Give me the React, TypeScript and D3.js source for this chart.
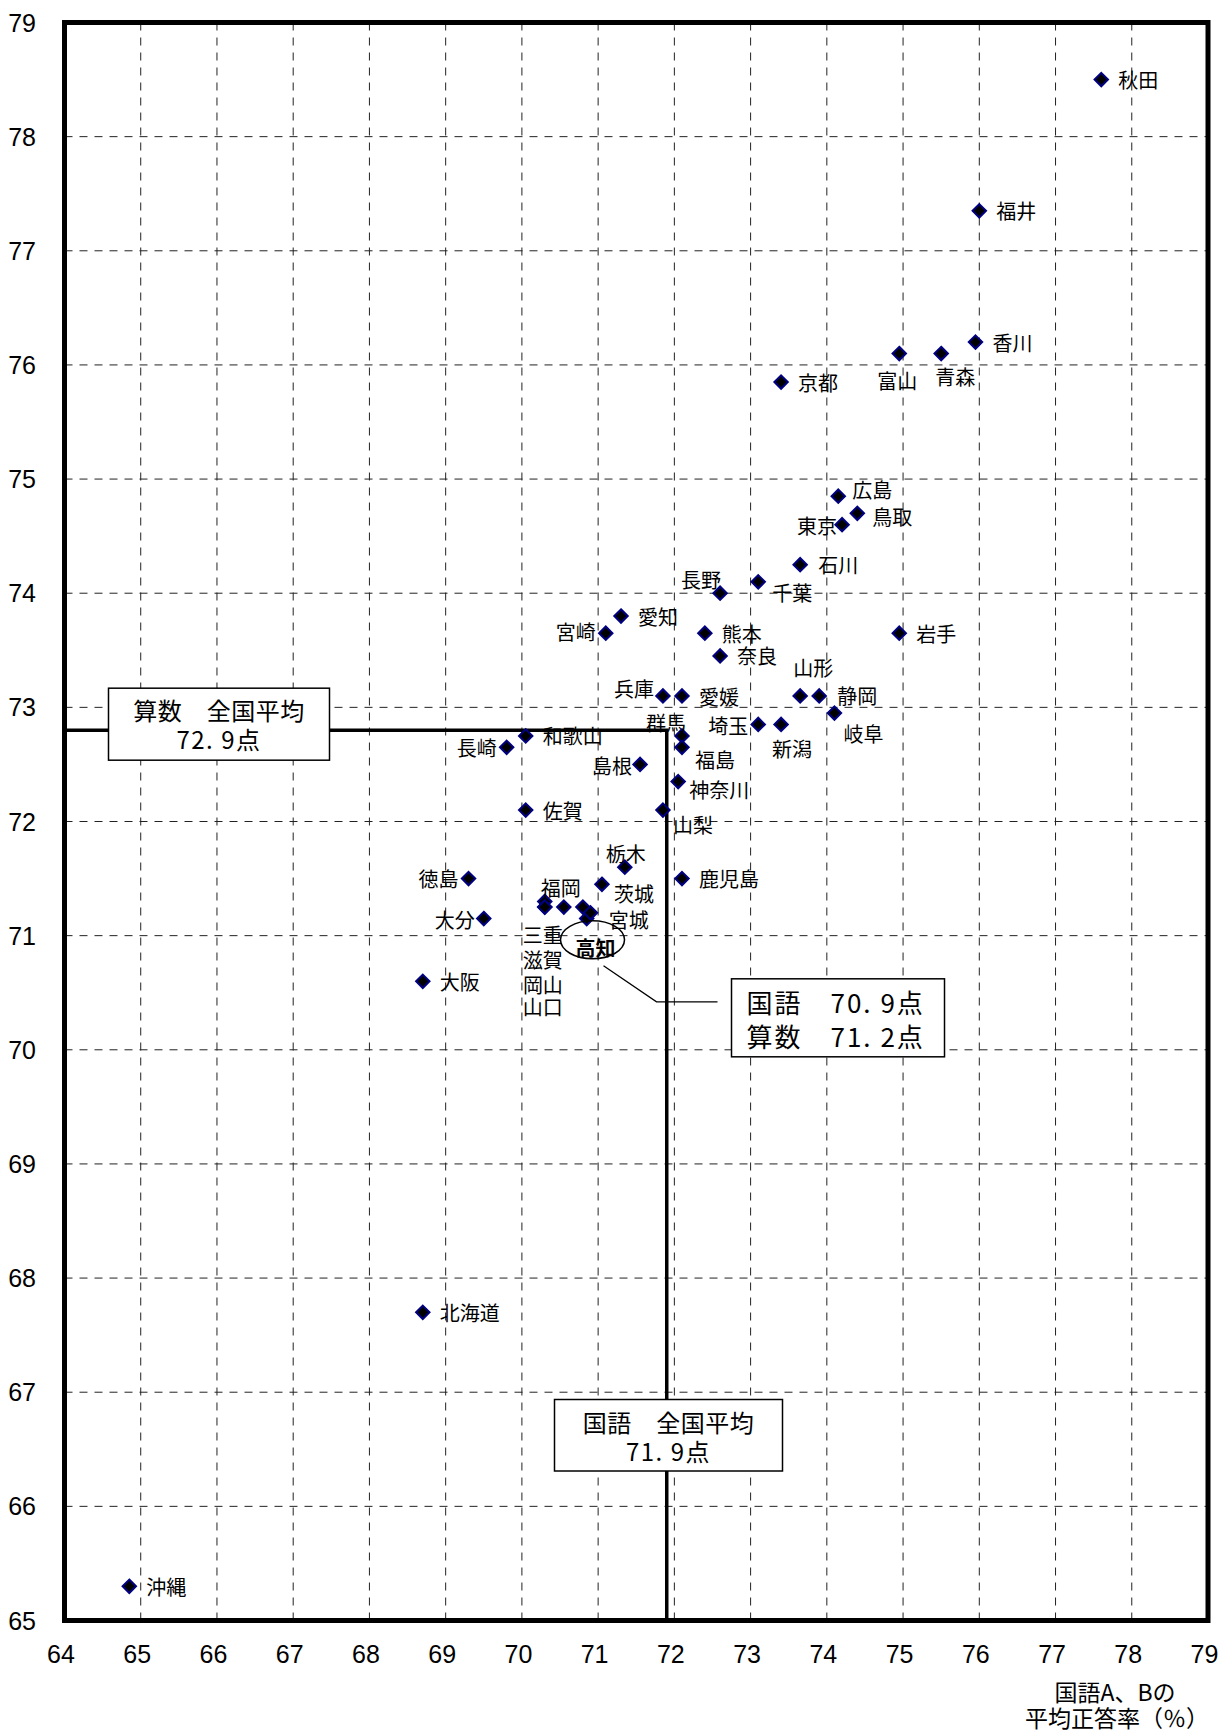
import React from "react";
import * as d3 from "d3";

// ---- data (国語 = x, 算数 = y) ----
const prefectures = [
  "秋田", "福井", "香川", "富山", "青森", "京都", "広島", "鳥取", "東京", "石川",
  "千葉", "長野", "愛知", "宮崎", "熊本", "岩手", "奈良", "兵庫", "愛媛", "山形",
  "静岡", "岐阜", "埼玉", "新潟", "群馬", "福島", "和歌山", "長崎", "島根", "神奈川",
  "佐賀", "山梨", "栃木", "鹿児島", "徳島", "茨城", "福岡", "三重", "山口", "滋賀",
  "岡山", "宮城", "高知", "大分", "大阪", "北海道", "沖縄",
];
const kokugo = [
  77.6, 76.0, 75.95, 74.95, 75.5, 73.4, 74.15, 74.4, 74.2, 73.65,
  73.1, 72.6, 71.3, 71.1, 72.4, 74.95, 72.6, 71.85, 72.1, 73.65,
  73.9, 74.1, 73.1, 73.4, 72.1, 72.1, 70.05, 69.8, 71.55, 72.05,
  70.05, 71.85, 71.35, 72.1, 69.3, 71.05, 70.3, 70.3, 70.3, 70.55,
  70.8, 70.85, 70.9, 69.5, 68.7, 68.7, 64.85,
];
const sansu = [
  78.5, 77.35, 76.2, 76.1, 76.1, 75.85, 74.85, 74.7, 74.6, 74.25,
  74.1, 74.0, 73.8, 73.65, 73.65, 73.65, 73.45, 73.1, 73.1, 73.1,
  73.1, 72.95, 72.85, 72.85, 72.75, 72.65, 72.75, 72.65, 72.5, 72.35,
  72.1, 72.1, 71.6, 71.5, 71.5, 71.45, 71.3, 71.25, 71.25, 71.25,
  71.25, 71.15, 71.2, 71.15, 70.6, 67.7, 65.3,
];
const xTicks = d3.range(64, 80, 1);
const yTicks = d3.range(65, 80, 1);
const avgKokugo = 71.9;
const avgSansuLine = 72.8;
const avgSansuText = ["算数　全国平均", "72. 9点"];
const avgKokugoText = ["国語　全国平均", "71. 9点"];
const kochiText = ["国語　70. 9点", "算数　71. 2点"];
const axisTitle = ["国語A、Bの", "平均正答率（％）"];

// ---- label placement (layout, px offsets from marker) ----
type LP = [string, number, number];
const labelPlacement: LP[] = [
  ["start", 17, 0], ["start", 17, 0], ["start", 17, 0], ["middle", -2, 27], ["middle", 14, 23],
  ["start", 17, 0], ["start", 14, -7], ["start", 15, 3], ["end", -5, 1], ["start", 18, 0],
  ["start", 14, 11], ["end", 1, -14], ["start", 17, 0], ["end", -10, -2], ["start", 17, 0],
  ["start", 17, 0], ["start", 17, 0], ["end", -9, -7], ["start", 17, 1], ["start", -7, -28],
  ["start", 18, 0], ["start", 9, 20], ["end", -10, 1], ["start", -9, 24], ["end", 4, -13],
  ["start", 13, 12], ["start", 17, 0], ["end", -10, 0], ["end", -8, 1], ["start", 11, 8],
  ["start", 17, 0], ["start", 10, 14], ["middle", 1, -14], ["start", 17, 0], ["end", -10, 0],
  ["start", 12, 9], ["start", -4, -14], ["start", -22, 27], ["start", -22, 99], ["start", -41, 52],
  ["start", -60, 77], ["start", 22, 1], ["middle", 5, 35], ["end", -9, 1], ["start", 17, 0],
  ["start", 17, 0], ["start", 17, 0],
];

const W = 1218;
const H = 1733;
const LEFT = 64.5, RIGHT = 1208, TOP = 22.5, BOTTOM = 1620.5;
const JP = "'Noto Sans CJK JP', 'Noto Sans', sans-serif";
const NUM = "'Liberation Sans Narrow', 'Liberation Sans', Arial, sans-serif";

export default function App() {
  const x = d3.scaleLinear().domain([64, 79]).range([LEFT, RIGHT]);
  const y = d3.scaleLinear().domain([65, 79]).range([BOTTOM, TOP]);
  const diamond = d3.symbol().type(d3.symbolDiamond2).size(115)() as string;

  const points = prefectures.map((n, i) => ({ name: n, px: x(kokugo[i]), py: y(sansu[i]), lp: labelPlacement[i] }));
  const kochi = points.find((p) => p.name === "高知")!;

  const vx = x(avgKokugo);
  const hy = y(avgSansuLine);

  // annotation box for 高知
  const kb = { x: kochi.px + 141, y: kochi.py + 66, w: 213, h: 78 };

  return (
    <div style={{ position: "absolute", left: 0, top: 0 }}>
      <svg width={W} height={H} style={{ display: "block", background: "#fff" }}>
        <rect x={0} y={0} width={W} height={H} fill="#fff" />
        {/* grid */}
        <g stroke="#222" strokeWidth={1} strokeDasharray="8,7">
          {xTicks.slice(1, -1).map((t) => (
            <line key={"gx" + t} x1={x(t)} x2={x(t)} y1={TOP} y2={BOTTOM} />
          ))}
          {yTicks.slice(1, -1).map((t) => (
            <line key={"gy" + t} x1={LEFT} x2={RIGHT} y1={y(t)} y2={y(t)} />
          ))}
        </g>
        {/* national average lines */}
        <polyline
          points={`${LEFT},${hy} ${vx},${hy} ${vx},${BOTTOM}`}
          fill="none"
          stroke="#000"
          strokeWidth={3.5}
        />
        {/* 高知 leader line */}
        <polyline
          points={`${kochi.px + 13},${kochi.py + 53} ${kochi.px + 66},${kochi.py + 89} ${kb.x - 14},${kochi.py + 89}`}
          fill="none"
          stroke="#000"
          strokeWidth={1.3}
        />
        {/* markers */}
        {points.map((p) => (
          <path
            key={"m" + p.name}
            d={diamond}
            transform={`translate(${p.px},${p.py})`}
            fill="#000"
            stroke="#000080"
            strokeWidth={2}
          />
        ))}
        {/* labels */}
        <g fontFamily={JP} fontSize={20} fill="#000">
          {points.map((p) => (
            <text
              key={"l" + p.name}
              x={p.px + p.lp[1]}
              y={p.py + p.lp[2]}
              textAnchor={p.lp[0] as any}
              dominantBaseline="central"
              fontWeight={p.name === "高知" ? "bold" : "normal"}
            >
              {p.name}
            </text>
          ))}
        </g>
        {/* 高知 ellipse */}
        <ellipse cx={kochi.px + 2} cy={kochi.py + 27} rx={32} ry={19} fill="none" stroke="#000" strokeWidth={1.5} />
        {/* 算数 average box */}
        <g fontFamily={JP} fontSize={24}>
          <rect x={108.5} y={hy - 42} width={221} height={72} fill="#fff" stroke="#000" strokeWidth={1.5} />
          <text textAnchor="middle" dominantBaseline="central">
            <tspan x={219} y={hy - 21} letterSpacing={0.5}>{avgSansuText[0]}</tspan>
            <tspan x={219} y={hy + 7.5} letterSpacing={1.5}>{avgSansuText[1]}</tspan>
          </text>
        </g>
        {/* 国語 average box */}
        <g fontFamily={JP} fontSize={24}>
          <rect x={554.5} y={1399.5} width={228} height={71.5} fill="#fff" stroke="#000" strokeWidth={1.5} />
          <text textAnchor="middle" dominantBaseline="central">
            <tspan x={668.5} y={1421} letterSpacing={0.5}>{avgKokugoText[0]}</tspan>
            <tspan x={668.5} y={1450} letterSpacing={1.5}>{avgKokugoText[1]}</tspan>
          </text>
        </g>
        {/* 高知 score box */}
        <g fontFamily={JP} fontSize={26}>
          <rect x={kb.x} y={kb.y} width={kb.w} height={kb.h} fill="#fff" stroke="#000" strokeWidth={1.5} />
          <text dominantBaseline="central" letterSpacing={2}>
            <tspan x={kb.x + 15} y={kb.y + 22}>{kochiText[0]}</tspan>
            <tspan x={kb.x + 15} y={kb.y + 56}>{kochiText[1]}</tspan>
          </text>
        </g>
        {/* plot border */}
        <rect x={LEFT} y={TOP} width={RIGHT - LEFT} height={BOTTOM - TOP} fill="none" stroke="#000" strokeWidth={5} />
        {/* axis tick labels */}
        <g fontFamily={NUM} fontSize={25} fill="#000">
          {yTicks.map((t) => (
            <text key={"yt" + t} x={36} y={y(t)} textAnchor="end" dominantBaseline="central">
              {t}
            </text>
          ))}
          {xTicks.map((t) => (
            <text key={"xt" + t} x={x(t) - 3.5} y={1654} textAnchor="middle" dominantBaseline="central">
              {t}
            </text>
          ))}
        </g>
        {/* axis title */}
        <g fontFamily={JP} fontSize={23} fill="#000">
          <text textAnchor="middle" dominantBaseline="central">
            <tspan x={1115} y={1691}>{axisTitle[0]}</tspan>
            <tspan x={1117} y={1717}>{axisTitle[1]}</tspan>
          </text>
        </g>
      </svg>
    </div>
  );
}
